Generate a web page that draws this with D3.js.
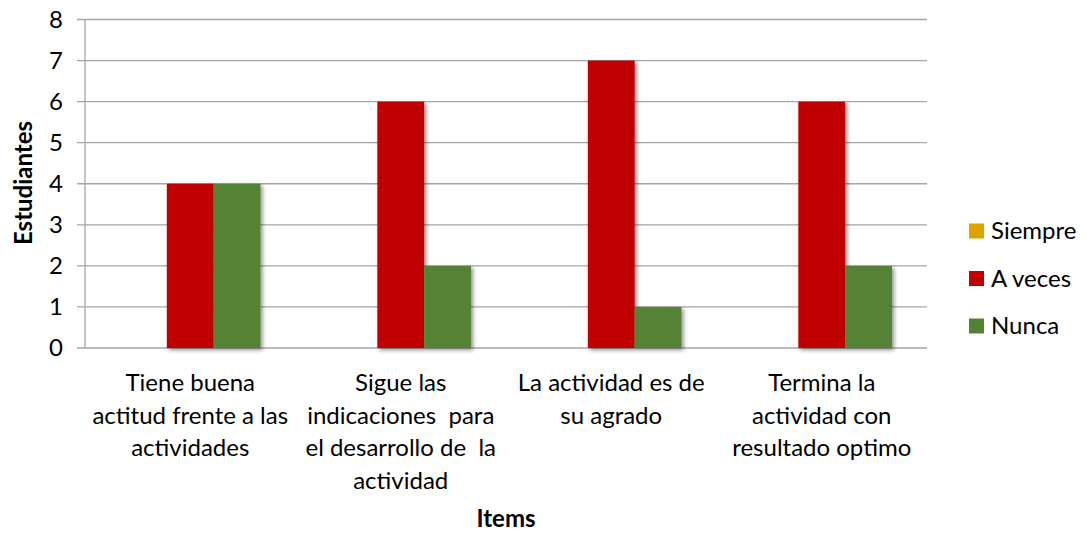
<!DOCTYPE html>
<html>
<head>
<meta charset="utf-8">
<script src="https://cdnjs.cloudflare.com/ajax/libs/d3/7.8.5/d3.min.js"></script>
<style>
  body { margin: 0; background: #fff; }
  svg text { font-family: Lato, "Open Sans", sans-serif; fill: #000; }
</style>
</head>
<body>
<main></main>
<script>
const categories = [
    ["Tiene buena", "actitud frente a las", "actividades"],
    ["Sigue las", "indicaciones  para", "el desarrollo de  la", "actividad"],
    ["La actividad es de", "su agrado"],
    ["Termina la", "actividad con", "resultado optimo"]
];
const seriesNames = ["Siempre", "A veces", "Nunca"];
const siempre = [0, 0, 0, 0];
const aVeces = [4, 6, 7, 6];
const nunca = [4, 2, 1, 2];
const yTicks = [0, 1, 2, 3, 4, 5, 6, 7, 8];
const colors = ["#DDA400", "#C00000", "#548235"];

const width = 1087;
const height = 534;
const plotLeft = 85, plotRight = 927, plotTop = 19.5, plotBottom = 348;
const fontSize = "24px";

const series = [siempre, aVeces, nunca];

const svg = d3.select("main")
    .append("svg")
    .attr("width", width)
    .attr("height", height);

// shadow for bars
const defs = svg.append("defs");
const f = defs.append("filter").attr("id", "shadow")
    .attr("x", "-20%").attr("y", "-20%").attr("width", "150%").attr("height", "150%");
f.append("feDropShadow")
    .attr("dx", 2).attr("dy", 2).attr("stdDeviation", 2)
    .attr("flood-color", "#000").attr("flood-opacity", 0.45);

const xScale = d3.scaleBand()
    .domain(d3.range(categories.length))
    .range([plotLeft, plotRight])
    .paddingInner(0.333)
    .paddingOuter(0.1665);

const xSub = d3.scaleBand()
    .domain(d3.range(seriesNames.length))
    .range([0, xScale.bandwidth()]);

const yScale = d3.scaleLinear()
    .domain([0, 8])
    .range([plotBottom, plotTop]);

// gridlines
svg.append("g")
    .selectAll("line")
    .data(yTicks)
    .enter()
    .append("line")
    .attr("x1", plotLeft - 8)
    .attr("x2", plotRight)
    .attr("y1", d => yScale(d))
    .attr("y2", d => yScale(d))
    .attr("stroke", "#A6A6A6")
    .attr("stroke-width", 1.3);

// y axis line
svg.append("line")
    .attr("x1", plotLeft).attr("x2", plotLeft)
    .attr("y1", plotTop).attr("y2", plotBottom)
    .attr("stroke", "#A6A6A6")
    .attr("stroke-width", 1.3);

// y tick labels
svg.append("g")
    .selectAll("text")
    .data(yTicks)
    .enter()
    .append("text")
    .attr("x", 63)
    .attr("y", d => yScale(d))
    .attr("dy", "0.35em")
    .attr("text-anchor", "end")
    .style("font-size", fontSize)
    .text(d => d);

// bars
series.forEach((vals, s) => {
    svg.append("g")
        .selectAll("rect")
        .data(vals)
        .enter()
        .filter(d => d > 0)
        .append("rect")
        .attr("x", (d, i) => xScale(i) + xSub(s))
        .attr("y", d => yScale(d))
        .attr("width", xSub.bandwidth())
        .attr("height", d => yScale(0) - yScale(d))
        .attr("fill", colors[s])
        .attr("filter", "url(#shadow)");
});

// category labels
const cat = svg.append("g")
    .selectAll("text")
    .data(categories)
    .enter()
    .append("text")
    .attr("text-anchor", "middle")
    .style("font-size", fontSize);

cat.selectAll("tspan")
    .data((d, i) => d.map(t => ({ t, i })))
    .enter()
    .append("tspan")
    .attr("x", d => xScale(d.i) + xScale.bandwidth() / 2)
    .attr("y", (d, j) => 391 + j * 32.5)
    .style("white-space", "pre")
    .text(d => d.t);

// axis titles
svg.append("text")
    .attr("transform", `translate(32, 183) rotate(-90)`)
    .attr("text-anchor", "middle")
    .style("font-size", fontSize)
    .style("font-weight", "bold")
    .text("Estudiantes");

svg.append("text")
    .attr("x", 506)
    .attr("y", 527)
    .attr("text-anchor", "middle")
    .style("font-size", fontSize)
    .style("font-weight", "bold")
    .text("Items");

// legend
const legend = svg.append("g")
    .selectAll("g")
    .data(seriesNames)
    .enter()
    .append("g")
    .attr("transform", (d, i) => `translate(969, ${231 + i * 47.5})`);

legend.append("rect")
    .attr("x", 0).attr("y", -7.5)
    .attr("width", 15).attr("height", 15)
    .attr("fill", (d, i) => colors[i]);

legend.append("text")
    .attr("x", 22)
    .attr("y", 0)
    .attr("dy", "0.35em")
    .style("font-size", fontSize)
    .text(d => d);
</script>
</body>
</html>
